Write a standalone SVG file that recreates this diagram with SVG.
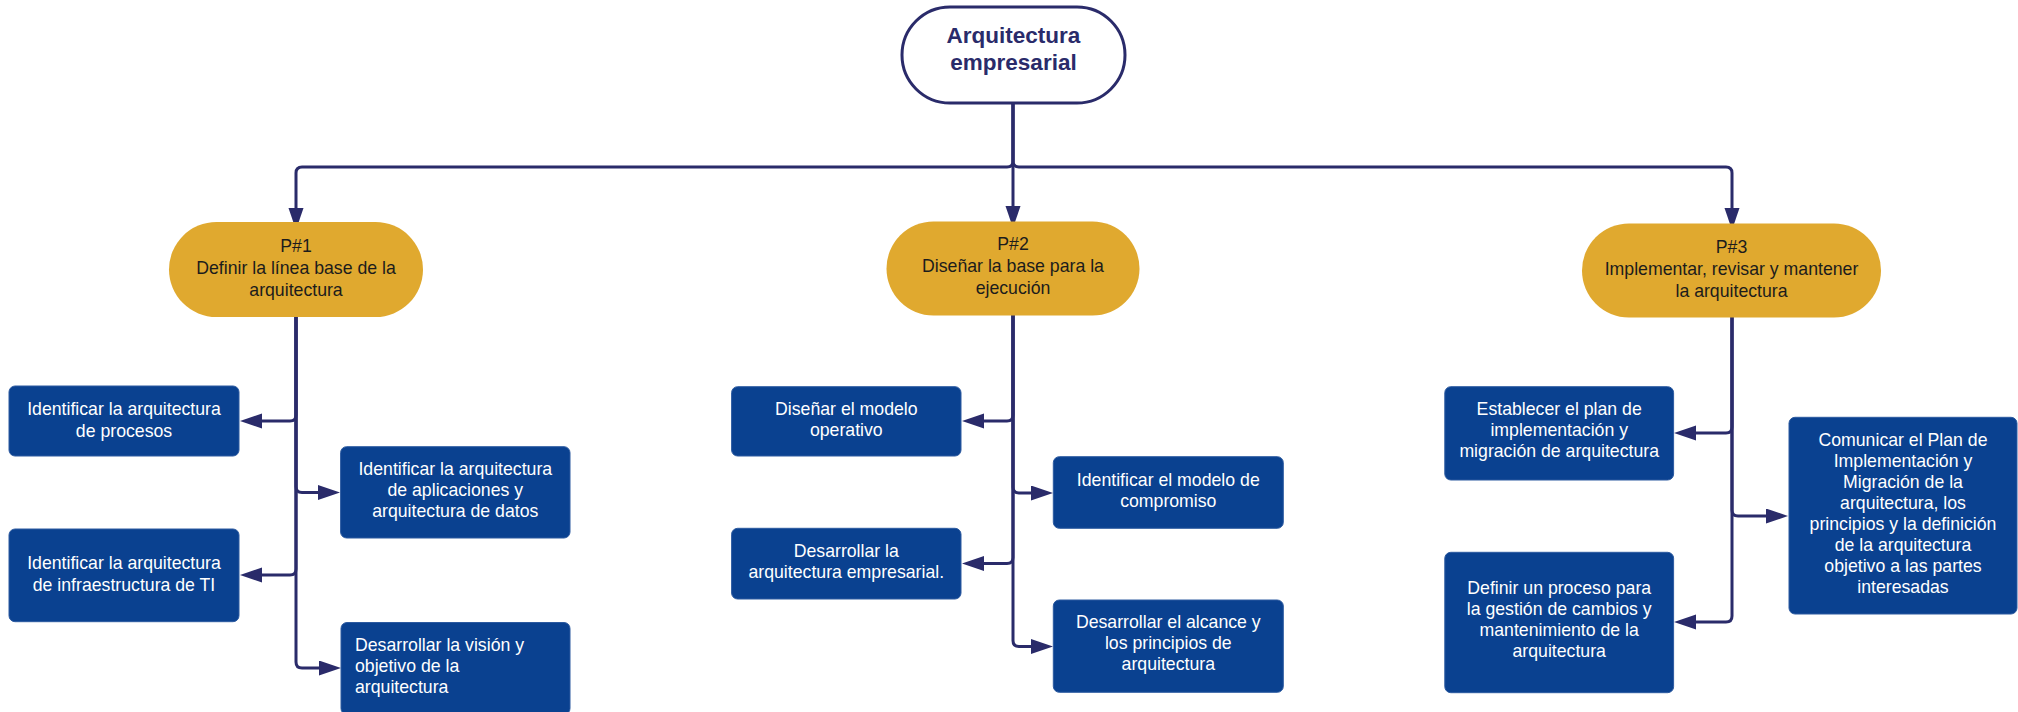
<svg xmlns="http://www.w3.org/2000/svg" width="2018" height="712" viewBox="0 0 2018 712">
<defs>
<style>
.conn{fill:none;stroke:#2A2B6A;stroke-width:3;marker-end:url(#arr)}
.box{fill:#0A4190;stroke:#2C5AA0;stroke-width:1}
.pill{fill:#E0A92F}
.bt{font-family:"Liberation Sans",Arial,sans-serif;font-size:17.7px;fill:#FFFFFF;text-anchor:middle}
.pt{font-family:"Liberation Sans",Arial,sans-serif;font-size:17.7px;fill:#1C1C1C;text-anchor:middle}
.rt{font-family:"Liberation Sans",Arial,sans-serif;font-size:22.5px;font-weight:bold;fill:#2A2B6A;text-anchor:middle}
</style>
<marker id="arr" markerUnits="userSpaceOnUse" markerWidth="24" markerHeight="16" refX="1" refY="7.5" orient="auto">
<path d="M0,0 L22,7.5 L0,15 z" fill="#2A2B6A"/>
</marker>
</defs>
<rect width="2018" height="712" fill="#FFFFFF"/>

<g id="connectors">
<path class="conn" d="M1013,103 V161 Q1013,167 1007,167 H302 Q296,167 296,173 V209"/>
<path class="conn" d="M1013,103 V161 Q1013,167 1019,167 H1726 Q1732,167 1732,173 V209"/>
<path class="conn" d="M1013,103 V207"/>

<path class="conn" d="M296,308 V415 Q296,421 290,421 H261"/>
<path class="conn" d="M296,308 V569 Q296,575 290,575 H261"/>
<path class="conn" d="M296,308 V486.5 Q296,492.5 302,492.5 H319"/>
<path class="conn" d="M296,308 V662 Q296,668 302,668 H320"/>

<path class="conn" d="M1013,308 V415 Q1013,421 1007,421 H983"/>
<path class="conn" d="M1013,308 V557.5 Q1013,563.5 1007,563.5 H983"/>
<path class="conn" d="M1013,308 V487 Q1013,493 1019,493 H1032"/>
<path class="conn" d="M1013,308 V640.5 Q1013,646.5 1019,646.5 H1032"/>

<path class="conn" d="M1732,308 V427 Q1732,433 1726,433 H1695"/>
<path class="conn" d="M1732,308 V616 Q1732,622 1726,622 H1695"/>
<path class="conn" d="M1732,308 V510 Q1732,516 1738,516 H1767"/>
</g>

<g id="root">
<rect x="902" y="7" width="223" height="96" rx="48" fill="#FFFFFF" stroke="#2A2B6A" stroke-width="3"/>
<text class="rt" x="1013.5" y="43">Arquitectura</text>
<text class="rt" x="1013.5" y="70">empresarial</text>
</g>

<g id="p1">
<rect class="pill" x="169" y="222" width="254" height="95" rx="47.5"/>
<text class="pt" x="296" y="252">P#1</text>
<text class="pt" x="296" y="274">Definir la línea base de la</text>
<text class="pt" x="296" y="296">arquitectura</text>
</g>
<g id="p2">
<rect class="pill" x="886.5" y="221.5" width="253" height="94" rx="47"/>
<text class="pt" x="1013" y="250">P#2</text>
<text class="pt" x="1013" y="272">Diseñar la base para la</text>
<text class="pt" x="1013" y="294">ejecución</text>
</g>
<g id="p3">
<rect class="pill" x="1582" y="223.5" width="299" height="94" rx="47"/>
<text class="pt" x="1731.5" y="253">P#3</text>
<text class="pt" x="1731.5" y="275">Implementar, revisar y mantener</text>
<text class="pt" x="1731.5" y="297">la arquitectura</text>
</g>

<g id="b1">
<rect class="box" x="9" y="386" width="230" height="70" rx="6"/>
<text class="bt" x="124" y="415.3">Identificar la arquitectura</text>
<text class="bt" x="124" y="436.5">de procesos</text>
</g>
<g id="b2">
<rect class="box" x="340.6" y="446.7" width="229.4" height="91.3" rx="6"/>
<text class="bt" x="455.3" y="475">Identificar la arquitectura</text>
<text class="bt" x="455.3" y="496">de aplicaciones y</text>
<text class="bt" x="455.3" y="517">arquitectura de datos</text>
</g>
<g id="b3">
<rect class="box" x="9" y="529" width="230" height="92.7" rx="6"/>
<text class="bt" x="124" y="569.3">Identificar la arquitectura</text>
<text class="bt" x="124" y="590.5">de infraestructura de TI</text>
</g>
<g id="b4">
<rect class="box" x="341" y="622.5" width="229" height="92" rx="6"/>
<text class="bt" x="355" y="650.7" text-anchor="start" style="text-anchor:start">Desarrollar la visión y</text>
<text class="bt" x="355" y="671.7" style="text-anchor:start">objetivo de la</text>
<text class="bt" x="355" y="692.7" style="text-anchor:start">arquitectura</text>
</g>

<g id="b5">
<rect class="box" x="731.6" y="386.7" width="229.4" height="69.3" rx="6"/>
<text class="bt" x="846.3" y="415">Diseñar el modelo</text>
<text class="bt" x="846.3" y="436">operativo</text>
</g>
<g id="b6">
<rect class="box" x="1053.3" y="456.7" width="230" height="71.6" rx="6"/>
<text class="bt" x="1168.3" y="485.7">Identificar el modelo de</text>
<text class="bt" x="1168.3" y="506.7">compromiso</text>
</g>
<g id="b7">
<rect class="box" x="731.6" y="528.3" width="229.4" height="70.7" rx="6"/>
<text class="bt" x="846.3" y="556.7">Desarrollar la</text>
<text class="bt" x="846.3" y="577.5">arquitectura empresarial.</text>
</g>
<g id="b8">
<rect class="box" x="1053.3" y="600" width="230" height="92.3" rx="6"/>
<text class="bt" x="1168.3" y="628.3">Desarrollar el alcance y</text>
<text class="bt" x="1168.3" y="649.3">los principios de</text>
<text class="bt" x="1168.3" y="670.3">arquitectura</text>
</g>

<g id="b9">
<rect class="box" x="1444.8" y="386.7" width="228.8" height="93.3" rx="6"/>
<text class="bt" x="1559.2" y="415">Establecer el plan de</text>
<text class="bt" x="1559.2" y="436">implementación y</text>
<text class="bt" x="1559.2" y="457">migración de arquitectura</text>
</g>
<g id="b10">
<rect class="box" x="1444.8" y="552.3" width="228.8" height="140.4" rx="6"/>
<text class="bt" x="1559.2" y="594">Definir un proceso para</text>
<text class="bt" x="1559.2" y="615">la gestión de cambios y</text>
<text class="bt" x="1559.2" y="636">mantenimiento de la</text>
<text class="bt" x="1559.2" y="657">arquitectura</text>
</g>
<g id="b11">
<rect class="box" x="1789" y="417.3" width="228" height="196.7" rx="6"/>
<text class="bt" x="1903" y="445.7">Comunicar el Plan de</text>
<text class="bt" x="1903" y="466.7">Implementación y</text>
<text class="bt" x="1903" y="487.7">Migración de la</text>
<text class="bt" x="1903" y="508.7">arquitectura, los</text>
<text class="bt" x="1903" y="529.7">principios y la definición</text>
<text class="bt" x="1903" y="550.7">de la arquitectura</text>
<text class="bt" x="1903" y="571.7">objetivo a las partes</text>
<text class="bt" x="1903" y="592.7">interesadas</text>
</g>
</svg>
